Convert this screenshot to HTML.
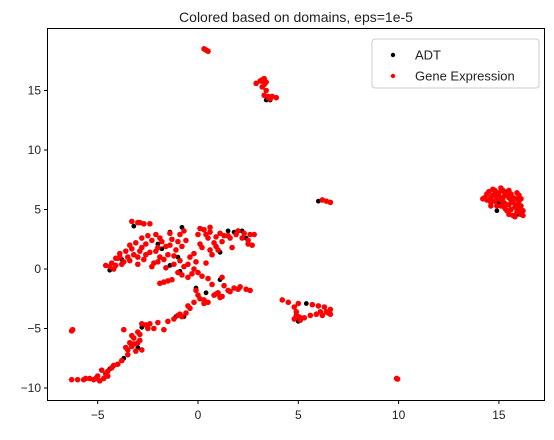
<!DOCTYPE html>
<html><head><meta charset="utf-8"><style>
body{margin:0;background:#fff;font-family:"Liberation Sans",sans-serif}
svg text{font-family:"Liberation Sans","DejaVu Sans",sans-serif;fill:#222}
</style></head><body>
<svg id="chart" width="554" height="435" xmlns="http://www.w3.org/2000/svg">
<rect width="554" height="435" fill="#fff"/>
<text x="296" y="22" font-size="14" text-anchor="middle">Colored based on domains, eps=1e-5</text>
<g id="marks"></g>
<rect x="47.5" y="28.5" width="497" height="372" fill="none" stroke="#000" stroke-width="1"/>
<g id="axes"></g>
<g>
<rect x="372" y="39" width="167" height="49" rx="3" fill="#fff" fill-opacity="0.8" stroke="#ccc"/>
<circle cx="393" cy="55" r="2.2" fill="#000"/>
<text x="415" y="59.5" font-size="13">ADT</text>
<circle cx="393" cy="76" r="2.2" fill="red"/>
<text x="415" y="80.5" font-size="13">Gene Expression</text>
</g>
</svg>
<script>
const xTicks=[-5,0,5,10,15];
const yTicks=[-10,-5,0,5,10,15];
const xTickLabels=["\u22125","0","5","10","15"];
const yTickLabels=["\u221210","\u22125","0","5","10","15"];
const adtX=[3.4,3.6,-4.4,-3.2,-1.4,-0.8,-1.8,-1.4,1.5,2.2,1.8,2.4,-0.9,0.4,1.1,1.1,-1.1,-3.7,-4.4,-2.8,5.0,5.4,6.0,15.4,16.0,15.0,15.9,14.9,-0.1,-2.0,-1.0,-3.8,-0.7,-3.0];
const adtY=[14.2,14.2,-0.1,3.6,3.1,3.5,1.7,0.3,3.2,3.2,3.1,2.6,-0.2,-2.0,-0.9,1.4,-4.0,-7.5,-8.4,-4.9,-4.4,-2.9,5.7,6.5,4.6,5.5,5.9,4.9,-1.6,2.1,1.0,0.8,-4.0,-6.6];
const geneX=[0.3,0.4,0.5,0.35,2.9,3.1,3.3,3.4,3.2,3.4,3.3,3.5,3.7,3.9,3.6,6.2,6.4,6.6,9.9,9.95,-6.3,-6.25,
14.3,14.5,14.7,14.9,15.1,15.3,15.5,15.7,15.9,14.6,14.9,15.2,15.5,15.8,16.0,16.1,15.7,15.9,15.4,14.4,15.0,15.6,16.0,16.2,14.8,
4.2,4.5,4.8,4.9,5.0,5.1,5.3,5.6,5.9,6.2,6.5,6.6,6.3,6.0,5.7,4.8,5.0,6.4,
-6.3,-6.0,-5.7,-5.4,-5.1,-4.9,-4.7,-4.5,-4.8,-4.5,-4.3,-4.0,-3.8,-3.5,-3.6,-3.4,-3.3,-3.0,-2.9,-2.8,-3.1,-3.2,-2.8,-2.6,-2.2,-2.0,-1.7,-1.5,-1.2,-0.9,-0.6,-0.8,-0.4,-0.2,0.1,0.3,0.5,-0.1,-3.7,-2.5,
0.7,0.8,1.0,1.2,1.5,1.8,2.1,2.4,2.6,1.6,0.5,1.2,1.3,
-4.6,-4.4,-4.2,-4.0,-3.9,-3.7,-3.5,-3.3,-3.1,-2.9,-2.7,-3.0,-2.6,-2.4,-2.2,-2.0,-1.8,-1.7,-1.5,-1.3,-1.1,-0.9,-0.8,-0.7,-1.4,-1.0,-1.3,-1.7,-1.9,-0.5,-0.3,0.2,-0.2,0.0,0.3,0.6,0.9,1.2,1.5,1.9,2.2,2.5,2.7,2.8,1.7,0.7,1.0,0.4,0.1,-3.3,-3.0,-2.7,-2.4,-2.5,-2.1,-3.6,-4.1,-2.8,-0.6,0.5,-1.9,-2.3,-0.5,1.1,2.0,
14.4,14.6,14.8,15.0,15.2,15.4,15.6,15.8,16.0,15.1,15.3,15.6,15.9,16.1,15.5,15.8,16.2,14.6,14.2,15.3,15.7,15.1,14.9,15.5,16.1,14.7,15.2,
-4.3,-3.8,-3.4,-3.2,-3.0,-2.8,-2.6,-2.3,-2.1,-1.9,-1.6,-1.4,-1.2,-1.0,-0.9,-1.2,-0.7,-0.4,-0.1,0.2,0.4,0.1,0.6,0.8,1.3,1.6,2.3,2.6,2.5,-2.9,-3.4,-3.9,-4.1,-2.0,-1.6,-0.8,0.0,-1.5,-0.2,0.6,0.9,
-5.6,-5.2,-5.0,-4.6,-4.2,-3.5,-3.3,-3.0,-2.9,-3.2,-2.4,-1.0,-0.5,0.0,0.3,0.9,1.1,2.0,5.1,4.9,6.1,6.6,3.2,3.3,3.5];
const geneY=[18.5,18.4,18.3,18.45,15.6,15.8,16.0,15.7,15.3,15.0,14.6,14.4,14.5,14.4,14.3,5.8,5.7,5.6,-9.2,-9.25,-5.2,-5.1,
6.0,6.5,6.2,5.9,6.8,6.3,6.6,6.0,6.4,5.6,5.3,5.7,5.4,5.2,5.0,4.6,4.5,4.8,4.9,5.8,6.1,5.8,5.7,4.9,6.6,
-2.6,-2.8,-3.2,-3.6,-4.0,-4.3,-4.1,-3.9,-3.8,-3.9,-3.7,-3.4,-3.2,-3.1,-3.0,-4.2,-2.9,-3.6,
-9.3,-9.3,-9.3,-9.2,-9.2,-9.4,-9.2,-9.0,-8.5,-8.6,-8.3,-8.0,-7.7,-7.2,-6.6,-6.2,-5.6,-5.3,-6.0,-6.8,-6.9,-6.3,-4.6,-4.7,-5.0,-4.5,-5.1,-4.4,-4.2,-3.8,-3.7,-4.0,-3.3,-2.8,-2.5,-2.6,-2.8,-1.8,-5.1,-5.0,
-1.3,-2.2,-2.0,-2.3,-1.8,-1.6,-1.5,-1.7,-1.8,-1.9,-0.8,-0.7,-1.4,
0.3,0.2,0.0,0.9,1.3,0.6,1.0,1.7,2.2,1.5,0.8,0.4,2.1,1.4,0.5,1.8,2.3,0.8,1.2,2.5,1.6,0.7,1.9,3.2,3.0,-0.3,-0.9,-1.1,-1.2,0.4,-0.4,-0.6,1.3,2.9,3.3,3.1,2.7,2.3,2.8,2.9,2.6,2.4,2.0,2.9,1.8,1.2,1.6,0.5,2.1,4.0,3.9,3.8,3.8,2.8,2.9,1.5,0.9,2.6,2.4,2.6,1.0,0.2,-0.7,3.0,3.2,
6.3,6.0,5.7,6.4,6.0,6.2,6.3,5.9,6.2,5.3,5.1,5.0,5.4,5.3,4.6,4.4,4.5,5.3,5.9,5.5,5.6,5.8,6.2,6.0,5.9,6.7,6.6,
0.5,0.4,0.7,1.2,1.0,1.8,1.2,2.4,1.5,2.6,1.9,2.0,1.1,2.3,2.9,0.4,0.2,1.0,0.6,1.8,2.9,3.4,3.5,2.2,2.8,2.6,3.0,2.9,2.1,3.9,2.0,1.0,0.3,0.6,0.1,-0.5,-0.3,-1.0,0.0,1.6,1.9,
-9.2,-9.3,-9.0,-8.8,-8.1,-6.8,-6.5,-6.2,-5.5,-5.8,-4.6,-3.9,-3.1,-2.2,-2.9,-2.1,-2.4,-1.7,-4.1,-3.9,-3.6,-3.8,15.9,15.5,14.5];

const NS="http://www.w3.org/2000/svg";
function sx(v){return 198+v*20.06;}
function sy(v){return 269-v*11.9;}
const marks=document.getElementById('marks');
const axes=document.getElementById('axes');
function dots(xs,ys,color,name,r){
  for(let i=0;i<xs.length;i++){
    const c=document.createElementNS(NS,'circle');
    
    
    c.setAttribute('cx',sx(xs[i]));c.setAttribute('cy',sy(ys[i]));
    c.setAttribute('r',r);c.setAttribute('fill',color);
    marks.appendChild(c);
  }
}
dots(adtX,adtY,'#000','adt-point',2.4);
dots(geneX,geneY,'red','gene-expression-point',2.8);
xTicks.forEach((t,i)=>{
  const x=sx(t);
  const l=document.createElementNS(NS,'line');
  
  
  l.setAttribute('x1',x);l.setAttribute('x2',x);l.setAttribute('y1',400.5);l.setAttribute('y2',404);l.setAttribute('stroke','#000');
  axes.appendChild(l);
  const tx=document.createElementNS(NS,'text');
  
  
  tx.setAttribute('x',x);tx.setAttribute('y',419);tx.setAttribute('font-size','12');tx.setAttribute('text-anchor','middle');
  tx.textContent=xTickLabels[i];axes.appendChild(tx);
});
yTicks.forEach((t,i)=>{
  const y=sy(t);
  const l=document.createElementNS(NS,'line');
  
  
  l.setAttribute('x1',44);l.setAttribute('x2',47.5);l.setAttribute('y1',y);l.setAttribute('y2',y);l.setAttribute('stroke','#000');
  axes.appendChild(l);
  const tx=document.createElementNS(NS,'text');
  
  
  tx.setAttribute('x',41);tx.setAttribute('y',y+4);tx.setAttribute('font-size','12');tx.setAttribute('text-anchor','end');
  tx.textContent=yTickLabels[i];axes.appendChild(tx);
});
</script>
</body></html>
